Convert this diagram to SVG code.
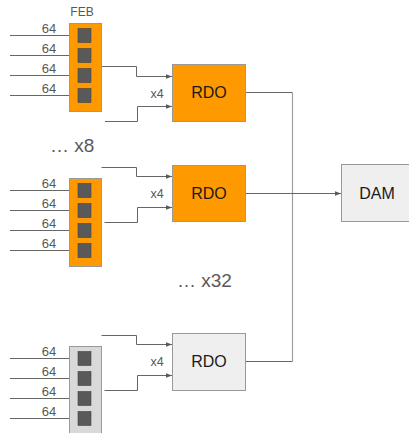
<svg xmlns="http://www.w3.org/2000/svg" width="409" height="433" viewBox="0 0 409 433">
<defs>
<marker id="ah" markerWidth="6" markerHeight="6" refX="6" refY="3" orient="auto" markerUnits="userSpaceOnUse">
<path d="M0,0.8 L6,3 L0,5.2 Z" fill="#595959"/>
</marker>
<style>
text{font-family:"Liberation Sans",Arial,sans-serif;}
.lbl{font-size:13px;fill:#595959;text-anchor:middle;}
.x4{font-size:12.5px;fill:#595959;text-anchor:middle;}
.big{font-size:19px;fill:#595959;}
.name{font-size:16px;fill:#1a1a1a;text-anchor:middle;}
.feb{fill:#ff9900;stroke:#999999;stroke-width:1;}
.febg{fill:#d9d9d9;stroke:#999999;stroke-width:1;}
.rdo{fill:#ff9900;stroke:#999999;stroke-width:1;}
.gry{fill:#efefef;stroke:#999999;stroke-width:1;}
.sq{fill:#595959;stroke:#434343;stroke-width:0.6;}
.ln{fill:none;stroke:#666666;stroke-width:1;}
.in{fill:none;stroke:#666666;stroke-width:1;marker-end:url(#ah);}
.bus{fill:none;stroke:#9e9e9e;stroke-width:1.2;}
</style>
</defs>
<rect width="409" height="433" fill="#ffffff"/>

<g id="connectors">
<!-- FEB group 1 inputs -->
<path class="in" d="M10,35.5 H78"/>
<path class="in" d="M10,55.5 H78"/>
<path class="in" d="M10,75.5 H78"/>
<path class="in" d="M10,95.5 H78"/>
<!-- FEB group 2 inputs -->
<path class="in" d="M10,190.5 H78"/>
<path class="in" d="M10,210.5 H78"/>
<path class="in" d="M10,230.5 H78"/>
<path class="in" d="M10,250.5 H78"/>
<!-- FEB group 3 inputs -->
<path class="in" d="M10,358.5 H78"/>
<path class="in" d="M10,378.5 H78"/>
<path class="in" d="M10,398.5 H78"/>
<path class="in" d="M10,418.5 H78"/>
<!-- FEB -> RDO 1 -->
<path class="in" d="M101,66.5 H136.5 V76.5 H172"/>
<path class="in" d="M105,121.5 H137.5 V106.5 H172"/>
<!-- FEB -> RDO 2 -->
<path class="in" d="M101.5,167.5 H136.5 V176.5 H172"/>
<path class="in" d="M104.5,222.5 H137.5 V207.5 H172"/>
<!-- FEB -> RDO 3 -->
<path class="in" d="M101.5,335.5 H136.5 V344.5 H172"/>
<path class="in" d="M104.5,390.5 H137.5 V375.5 H172"/>
<!-- RDO -> DAM -->
<path class="ln" d="M245,92.5 H292.5"/>
<path class="ln" d="M245,361.5 H292.5"/>
<path class="bus" d="M292.5,92.5 V361.5"/>
<path class="in" d="M245,193.5 H341"/>
</g>

<g id="feb1">
<text class="lbl" x="82" y="16" style="font-size:12px">FEB</text>
<rect class="feb" x="69.5" y="23.5" width="32" height="88"/>
<rect class="sq" x="78" y="28.5" width="13" height="14"/>
<rect class="sq" x="78" y="48.5" width="13" height="14"/>
<rect class="sq" x="78" y="68.5" width="13" height="14"/>
<rect class="sq" x="78" y="88.5" width="13" height="14"/>
<text class="lbl" x="49" y="33">64</text>
<text class="lbl" x="49" y="53">64</text>
<text class="lbl" x="49" y="73">64</text>
<text class="lbl" x="49" y="93">64</text>
</g>

<g id="feb2">
<rect class="feb" x="69.5" y="178.5" width="32" height="88"/>
<rect class="sq" x="78" y="183.5" width="13" height="14"/>
<rect class="sq" x="78" y="203.5" width="13" height="14"/>
<rect class="sq" x="78" y="223.5" width="13" height="14"/>
<rect class="sq" x="78" y="243.5" width="13" height="14"/>
<text class="lbl" x="49" y="188">64</text>
<text class="lbl" x="49" y="208">64</text>
<text class="lbl" x="49" y="228">64</text>
<text class="lbl" x="49" y="248">64</text>
</g>

<g id="feb3">
<rect class="febg" x="69.5" y="346.5" width="32" height="100"/>
<rect class="sq" x="78" y="351.5" width="13" height="14"/>
<rect class="sq" x="78" y="371.5" width="13" height="14"/>
<rect class="sq" x="78" y="391.5" width="13" height="14"/>
<rect class="sq" x="78" y="411.5" width="13" height="14"/>
<text class="lbl" x="49" y="356">64</text>
<text class="lbl" x="49" y="376">64</text>
<text class="lbl" x="49" y="396">64</text>
<text class="lbl" x="49" y="416">64</text>
</g>

<g id="rdo1">
<rect class="rdo" x="172.5" y="64.5" width="73" height="57"/>
<text class="name" x="209" y="98">RDO</text>
<text class="x4" x="157" y="97.5">x4</text>
</g>

<g id="rdo2">
<rect class="rdo" x="172.5" y="165.5" width="73" height="56"/>
<text class="name" x="209" y="199">RDO</text>
<text class="x4" x="157" y="198">x4</text>
</g>

<g id="rdo3">
<rect class="gry" x="172.5" y="333.5" width="73" height="57"/>
<text class="name" x="209" y="367">RDO</text>
<text class="x4" x="157" y="366">x4</text>
</g>

<g id="dam">
<rect class="gry" x="341.5" y="164.5" width="70" height="57"/>
<text class="name" x="377" y="199">DAM</text>
</g>

<g id="more8">
<text class="big" x="50" y="152">… x8</text>
</g>
<g id="more32">
<text class="big" x="177" y="287">… x32</text>
</g>
</svg>
